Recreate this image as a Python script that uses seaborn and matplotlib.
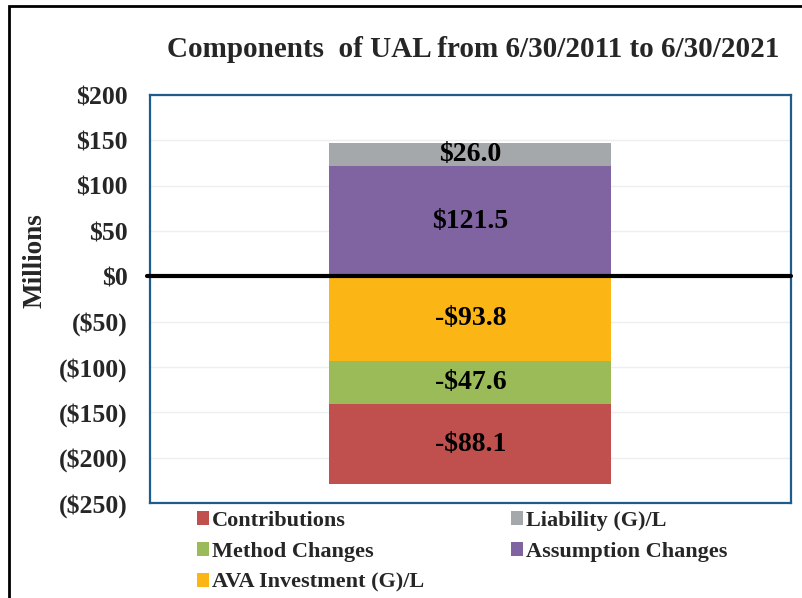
import numpy as np
import pandas as pd
import matplotlib
matplotlib.use("Agg")
import matplotlib.pyplot as plt
from matplotlib.patches import Patch, Rectangle
import seaborn as sns

# ---- data ----
categories = ["Assumption Changes", "Liability (G)/L", "AVA Investment (G)/L", "Method Changes", "Contributions"]
values = [121.5, 26.0, -93.8, -47.6, -88.1]
colors = ["#8064A2", "#A5A8AA", "#FBB515", "#9BBB59", "#C0504D"]
labels = ["$121.5", "$26.0", "-$93.8", "-$47.6", "-$88.1"]
yticks = [200, 150, 100, 50, 0, -50, -100, -150, -200, -250]
ytick_labels = ["$200", "$150", "$100", "$50", "$0", "($50)", "($100)", "($150)", "($200)", "($250)"]
legend_order = ["Contributions", "Method Changes", "AVA Investment (G)/L", "Liability (G)/L", "Assumption Changes"]

sns.set_theme(style="white")
plt.rcParams["font.family"] = ["Liberation Serif", "DejaVu Serif"]
plt.rcParams["font.weight"] = "bold"

fig = plt.figure(figsize=(8.02, 5.98), dpi=100)
ax = fig.add_axes([0.187, 0.159, 0.799, 0.682])

pos_bottom = 0.0
neg_bottom = 0.0
for cat, v, c, lab in zip(categories, values, colors, labels):
    if v >= 0:
        b = pos_bottom
        pos_bottom += v
    else:
        b = neg_bottom
        neg_bottom += v
    df = pd.DataFrame({"x": ["UAL"], "y": [v]})
    sns.barplot(data=df, x="x", y="y", color=c, saturation=1, width=0.44,
                bottom=b, ax=ax, linewidth=0)
    ax.text(0, b + v / 2, lab, ha="center", va="center", fontsize=20,
            fontweight="bold", color="black")

ax.set_xlim(-0.5, 0.5)
ax.set_ylim(-250, 200)
ax.set_yticks(yticks)
ax.set_yticklabels(ytick_labels)
ax.set_xticks([])
ax.set_xlabel("")
ax.set_ylabel("")
ax.tick_params(axis="y", length=0, pad=16, labelsize=18.5)
for t in ax.get_yticklabels():
    t.set_fontweight("bold")
ax.grid(axis="y", color="#EEEEEE", lw=1)
ax.set_axisbelow(True)
for s in ax.spines.values():
    s.set_color("#1F5C8B")
    s.set_linewidth(1.6)
ax.axhline(0, color="black", lw=3, xmin=-0.004, xmax=1.0, clip_on=False, zorder=5)

fig.text(0.59, 0.918, "Components  of UAL from 6/30/2011 to 6/30/2021",
         ha="center", va="center", fontsize=21, fontweight="bold")
fig.text(0.044, 0.565, "Millions", rotation=90, ha="center", va="center",
         fontsize=19.5, fontweight="bold")

cmap = dict(zip(categories, colors))
handles = [Patch(facecolor=cmap[n], edgecolor="none", label=n) for n in legend_order]
fig.legend(handles=handles, ncol=2, frameon=False, loc="upper left",
           bbox_to_anchor=(0.234, 0.160), prop={"size": 16, "weight": "bold"},
           handlelength=0.55, handleheight=0.6, handletextpad=0.15,
           columnspacing=3.9, labelspacing=0.48, borderaxespad=0)

fig.patches.append(Rectangle((9 / 802, -0.1), 1.2, (598 - 6) / 598 + 0.1,
                             transform=fig.transFigure, fill=False,
                             edgecolor="black", lw=2, figure=fig))

fig.savefig("out.png", dpi=100)
